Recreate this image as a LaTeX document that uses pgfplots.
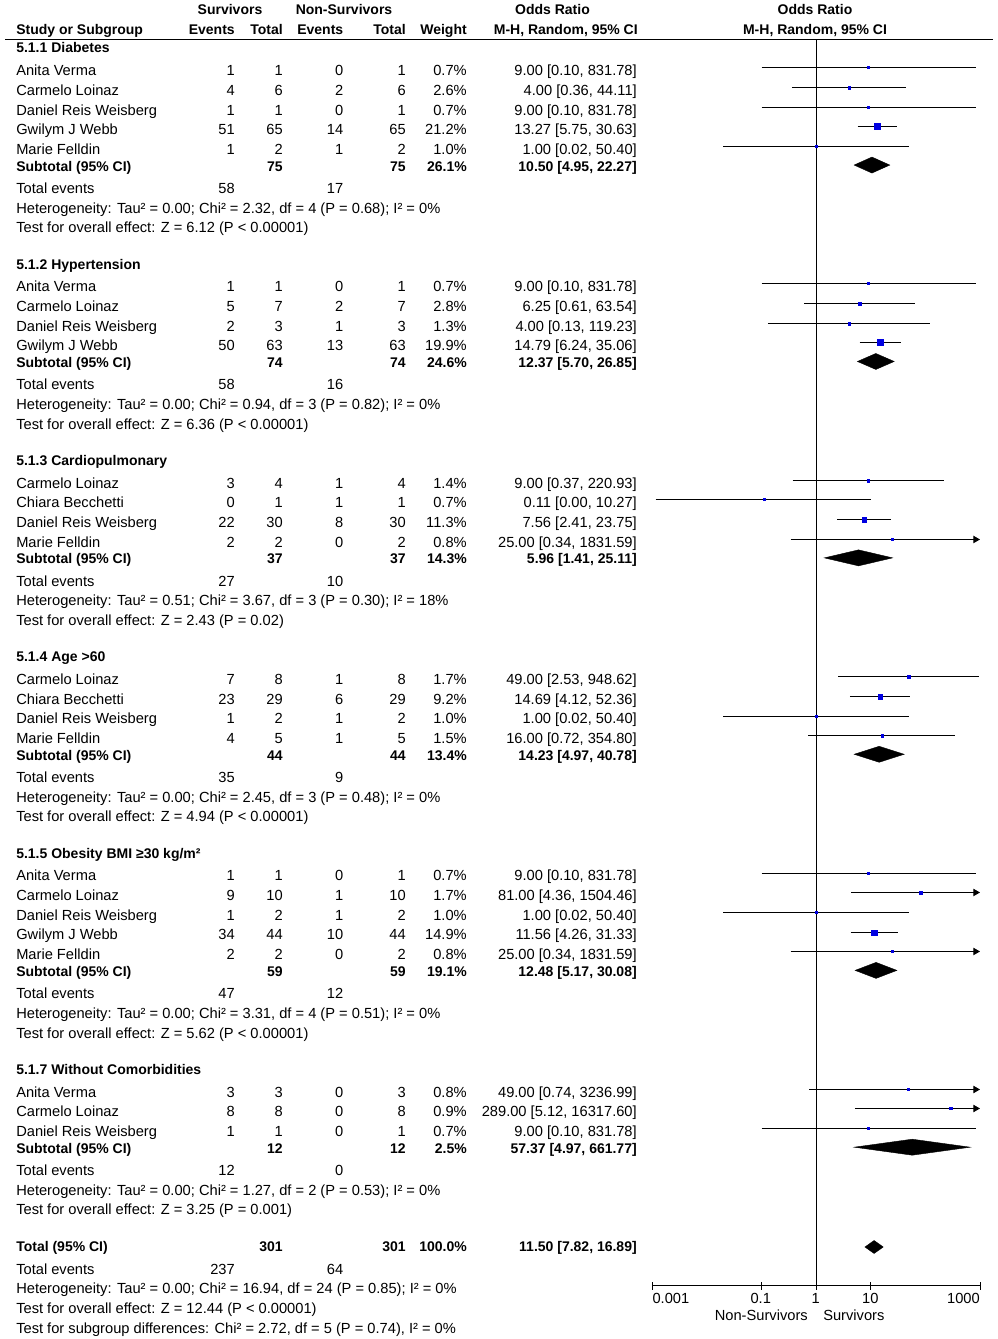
\documentclass[border=0pt]{standalone}
\usepackage{fontspec}
\setmainfont{Liberation Sans}
\usepackage{pgfplots}
\pgfplotsset{compat=1.18}
\usetikzlibrary{calc,arrows.meta}
\definecolor{sqblue}{RGB}{0,0,225}
\newcommand{\fR}{\fontsize{11pt}{13pt}\selectfont}
\newcommand{\fB}{\fontsize{10.5pt}{12pt}\selectfont\bfseries}
\tikzset{
 tl/.style={anchor=base west,inner sep=0pt,font=\fR},
 tr/.style={anchor=base east,inner sep=0pt,font=\fR},
 tc/.style={anchor=base,inner sep=0pt,font=\fR}}
\pgfplotsset{
 ci/.style={black,line width=0.8pt,mark=none},
 ciar/.style={black,line width=0.8pt,mark=none,-{Triangle[length=5pt,width=5.5pt]}},
 dia/.style={fill=black,draw=black,line width=0.3pt,mark=none}}
% study row: y, name, e1, t1, e2, t2, weight, CI
\newcommand{\study}[8]{%
\node[tl] at (axis cs:16,-#1) {#2};
\node[tr] at (axis cs:235,-#1) {#3};
\node[tr] at (axis cs:283,-#1) {#4};
\node[tr] at (axis cs:343.5,-#1) {#5};
\node[tr] at (axis cs:406,-#1) {#6};
\node[tr] at (axis cs:467,-#1) {#7\%};
\node[tr] at (axis cs:637,-#1) {#8};}
\newcommand{\subtot}[5]{%
\node[tl,font=\fB] at (axis cs:16,-#1) {Subtotal (95\% CI)};
\node[tr,font=\fB] at (axis cs:283,-#1) {#2};
\node[tr,font=\fB] at (axis cs:406,-#1) {#3};
\node[tr,font=\fB] at (axis cs:467,-#1) {#4\%};
\node[tr,font=\fB] at (axis cs:637,-#1) {#5};}
\newcommand{\tev}[3]{%
\node[tl] at (axis cs:16,-#1) {Total events};
\node[tr] at (axis cs:235,-#1) {#2};
\node[tr] at (axis cs:343.5,-#1) {#3};}
\newcommand{\tline}[2]{\node[tl] at (axis cs:16,-#1) {#2};}
\newcommand{\ghead}[2]{\node[tl,font=\fB] at (axis cs:16,-#1) {#2};}

\begin{document}
\begin{tikzpicture}
\begin{axis}[name=txt, at={(0,0)}, anchor=south west,
  width=747.75pt, height=1004.25pt, scale only axis,
  xmin=0, xmax=997, ymin=-1339, ymax=0, hide axis, clip=false]
% header
\node[tc,font=\fB] at (axis cs:230,-15) {Survivors};
\node[tc,font=\fB] at (axis cs:344,-15) {Non-Survivors};
\node[tc,font=\fB] at (axis cs:552.5,-15) {Odds Ratio};
\node[tc,font=\fB] at (axis cs:815,-15) {Odds Ratio};
\node[tl,font=\fB] at (axis cs:16,-35) {Study or Subgroup};
\node[tr,font=\fB] at (axis cs:235,-35) {Events};
\node[tr,font=\fB] at (axis cs:283,-35) {Total};
\node[tr,font=\fB] at (axis cs:343.5,-35) {Events};
\node[tr,font=\fB] at (axis cs:406,-35) {Total};
\node[tr,font=\fB] at (axis cs:467,-35) {Weight};
\node[tr,font=\fB] at (axis cs:638,-35) {M-H, Random, 95\% CI};
\node[tc,font=\fB] at (axis cs:815,-35) {M-H, Random, 95\% CI};
\addplot[black,line width=1.2pt,mark=none] coordinates {(5,-39.5) (993,-39.5)};
% group 1
\ghead{53}{5.1.1 Diabetes}
\study{75.7}{Anita Verma}{1}{1}{0}{1}{0.7}{9.00 [0.10, 831.78]}
\study{95.4}{Carmelo Loinaz}{4}{6}{2}{6}{2.6}{4.00 [0.36, 44.11]}
\study{115.1}{Daniel Reis Weisberg}{1}{1}{0}{1}{0.7}{9.00 [0.10, 831.78]}
\study{134.7}{Gwilym J Webb}{51}{65}{14}{65}{21.2}{13.27 [5.75, 30.63]}
\study{154.4}{Marie Felldin}{1}{2}{1}{2}{1.0}{1.00 [0.02, 50.40]}
\subtot{171.1}{75}{75}{26.1}{10.50 [4.95, 22.27]}
\tev{193.4}{58}{17}
\tline{213.1}{Heterogeneity: Tau² = 0.00; Chi² = 2.32, df = 4 (P = 0.68); I² = 0\%}
\tline{232.8}{Test for overall effect: Z = 6.12 (P < 0.00001)}
% group 2
\ghead{269.1}{5.1.2 Hypertension}
\study{291.8}{Anita Verma}{1}{1}{0}{1}{0.7}{9.00 [0.10, 831.78]}
\study{311.5}{Carmelo Loinaz}{5}{7}{2}{7}{2.8}{6.25 [0.61, 63.54]}
\study{331.2}{Daniel Reis Weisberg}{2}{3}{1}{3}{1.3}{4.00 [0.13, 119.23]}
\study{350.8}{Gwilym J Webb}{50}{63}{13}{63}{19.9}{14.79 [6.24, 35.06]}
\subtot{367.5}{74}{74}{24.6}{12.37 [5.70, 26.85]}
\tev{389.8}{58}{16}
\tline{409.5}{Heterogeneity: Tau² = 0.00; Chi² = 0.94, df = 3 (P = 0.82); I² = 0\%}
\tline{429.2}{Test for overall effect: Z = 6.36 (P < 0.00001)}
% group 3
\ghead{465.5}{5.1.3 Cardiopulmonary}
\study{488.2}{Carmelo Loinaz}{3}{4}{1}{4}{1.4}{9.00 [0.37, 220.93]}
\study{507.9}{Chiara Becchetti}{0}{1}{1}{1}{0.7}{0.11 [0.00, 10.27]}
\study{527.6}{Daniel Reis Weisberg}{22}{30}{8}{30}{11.3}{7.56 [2.41, 23.75]}
\study{547.2}{Marie Felldin}{2}{2}{0}{2}{0.8}{25.00 [0.34, 1831.59]}
\subtot{563.9}{37}{37}{14.3}{5.96 [1.41, 25.11]}
\tev{586.2}{27}{10}
\tline{605.9}{Heterogeneity: Tau² = 0.51; Chi² = 3.67, df = 3 (P = 0.30); I² = 18\%}
\tline{625.6}{Test for overall effect: Z = 2.43 (P = 0.02)}
% group 4
\ghead{661.9}{5.1.4 Age >60}
\study{684.6}{Carmelo Loinaz}{7}{8}{1}{8}{1.7}{49.00 [2.53, 948.62]}
\study{704.3}{Chiara Becchetti}{23}{29}{6}{29}{9.2}{14.69 [4.12, 52.36]}
\study{724.0}{Daniel Reis Weisberg}{1}{2}{1}{2}{1.0}{1.00 [0.02, 50.40]}
\study{743.6}{Marie Felldin}{4}{5}{1}{5}{1.5}{16.00 [0.72, 354.80]}
\subtot{760.3}{44}{44}{13.4}{14.23 [4.97, 40.78]}
\tev{782.6}{35}{9}
\tline{802.3}{Heterogeneity: Tau² = 0.00; Chi² = 2.45, df = 3 (P = 0.48); I² = 0\%}
\tline{822.0}{Test for overall effect: Z = 4.94 (P < 0.00001)}
% group 5
\ghead{858.3}{5.1.5 Obesity BMI ≥30 kg/m²}
\study{881.0}{Anita Verma}{1}{1}{0}{1}{0.7}{9.00 [0.10, 831.78]}
\study{900.7}{Carmelo Loinaz}{9}{10}{1}{10}{1.7}{81.00 [4.36, 1504.46]}
\study{920.4}{Daniel Reis Weisberg}{1}{2}{1}{2}{1.0}{1.00 [0.02, 50.40]}
\study{940.0}{Gwilym J Webb}{34}{44}{10}{44}{14.9}{11.56 [4.26, 31.33]}
\study{959.7}{Marie Felldin}{2}{2}{0}{2}{0.8}{25.00 [0.34, 1831.59]}
\subtot{976.4}{59}{59}{19.1}{12.48 [5.17, 30.08]}
\tev{998.7}{47}{12}
\tline{1018.4}{Heterogeneity: Tau² = 0.00; Chi² = 3.31, df = 4 (P = 0.51); I² = 0\%}
\tline{1038.1}{Test for overall effect: Z = 5.62 (P < 0.00001)}
% group 6
\ghead{1074.4}{5.1.7 Without Comorbidities}
\study{1097.1}{Anita Verma}{3}{3}{0}{3}{0.8}{49.00 [0.74, 3236.99]}
\study{1116.8}{Carmelo Loinaz}{8}{8}{0}{8}{0.9}{289.00 [5.12, 16317.60]}
\study{1136.5}{Daniel Reis Weisberg}{1}{1}{0}{1}{0.7}{9.00 [0.10, 831.78]}
\subtot{1153.2}{12}{12}{2.5}{57.37 [4.97, 661.77]}
\tev{1175.5}{12}{0}
\tline{1195.2}{Heterogeneity: Tau² = 0.00; Chi² = 1.27, df = 2 (P = 0.53); I² = 0\%}
\tline{1214.9}{Test for overall effect: Z = 3.25 (P = 0.001)}
% total
\node[tl,font=\fB] at (axis cs:16,-1252) {Total (95\% CI)};
\node[tr,font=\fB] at (axis cs:283,-1252) {301};
\node[tr,font=\fB] at (axis cs:406,-1252) {301};
\node[tr,font=\fB] at (axis cs:467,-1252) {100.0\%};
\node[tr,font=\fB] at (axis cs:637,-1252) {11.50 [7.82, 16.89]};
\tev{1274.3}{237}{64}
\tline{1294.0}{Heterogeneity: Tau² = 0.00; Chi² = 16.94, df = 24 (P = 0.85); I² = 0\%}
\tline{1313.7}{Test for overall effect: Z = 12.44 (P < 0.00001)}
\tline{1333.2}{Test for subgroup differences: Chi² = 2.72, df = 5 (P = 0.74), I² = 0\%}
% axis labels of forest plot
\node[tl] at (axis cs:652.3,-1304) {0.001};
\node[tc] at (axis cs:760.7,-1304) {0.1};
\node[tc] at (axis cs:815.7,-1304) {1};
\node[tc] at (axis cs:870.3,-1304) {10};
\node[tr] at (axis cs:980,-1304) {1000};
\node[tr] at (axis cs:808,-1321) {Non-Survivors};
\node[tl] at (axis cs:823,-1321) {Survivors};
\end{axis}

\begin{axis}[name=fp, at={($(txt.south west)+(489.225pt,39.75pt)$)}, anchor=south west,
  width=245.775pt, height=964.5pt, scale only axis,
  xmode=log, log basis x=10, xmin=0.001, xmax=1000, ymin=-1286, ymax=0,
  axis x line*=bottom, axis y line=none,
  xtick={0.001,0.1,1,10,1000}, xticklabels={}, xminorticks=false,
  xtick align=center, major tick length=6pt,
  axis line style={line width=0.75pt,black}, tick style={line width=0.75pt,black},
  clip=false]
\addplot[black,line width=0.75pt,mark=none] coordinates {(1,-39.5) (1,-1286)};
% group 1
\addplot[ci] coordinates {(0.10,-67.5) (831.78,-67.5)};
\addplot[ci] coordinates {(0.36,-87.5) (44.11,-87.5)};
\addplot[ci] coordinates {(0.10,-107.5) (831.78,-107.5)};
\addplot[ci] coordinates {(5.75,-126.5) (30.63,-126.5)};
\addplot[ci] coordinates {(0.02,-146.5) (50.40,-146.5)};
\addplot[dia] coordinates {(4.95,-165.1) (10.50,-157.1) (22.27,-165.1) (10.50,-173.1)} --cycle;
% group 2
\addplot[ci] coordinates {(0.10,-283.5) (831.78,-283.5)};
\addplot[ci] coordinates {(0.61,-303.5) (63.54,-303.5)};
\addplot[ci] coordinates {(0.13,-323.5) (119.23,-323.5)};
\addplot[ci] coordinates {(6.24,-342.5) (35.06,-342.5)};
\addplot[dia] coordinates {(5.70,-361.5) (12.37,-353.5) (26.85,-361.5) (12.37,-369.5)} --cycle;
% group 3
\addplot[ci] coordinates {(0.37,-480.5) (220.93,-480.5)};
\addplot[ci] coordinates {(0.00115,-499.5) (10.27,-499.5)};
\addplot[ci] coordinates {(2.41,-519.5) (23.75,-519.5)};
\addplot[ciar] coordinates {(0.34,-539.5) (1000,-539.5)};
\addplot[dia] coordinates {(1.41,-557.9) (5.96,-549.9) (25.11,-557.9) (5.96,-565.9)} --cycle;
% group 4
\addplot[ci] coordinates {(2.53,-676.5) (948.62,-676.5)};
\addplot[ci] coordinates {(4.12,-696.5) (52.36,-696.5)};
\addplot[ci] coordinates {(0.02,-716.5) (50.40,-716.5)};
\addplot[ci] coordinates {(0.72,-735.5) (354.80,-735.5)};
\addplot[dia] coordinates {(4.97,-754.3) (14.23,-746.3) (40.78,-754.3) (14.23,-762.3)} --cycle;
% group 5
\addplot[ci] coordinates {(0.10,-873.5) (831.78,-873.5)};
\addplot[ciar] coordinates {(4.36,-892.5) (1000,-892.5)};
\addplot[ci] coordinates {(0.02,-912.5) (50.40,-912.5)};
\addplot[ci] coordinates {(4.26,-932.5) (31.33,-932.5)};
\addplot[ciar] coordinates {(0.34,-951.5) (1000,-951.5)};
\addplot[dia] coordinates {(5.17,-970.4) (12.48,-962.4) (30.08,-970.4) (12.48,-978.4)} --cycle;
% group 6
\addplot[ciar] coordinates {(0.74,-1089.5) (1000,-1089.5)};
\addplot[ciar] coordinates {(5.12,-1108.5) (1000,-1108.5)};
\addplot[ci] coordinates {(0.10,-1128.5) (831.78,-1128.5)};
\addplot[dia] coordinates {(4.97,-1147.2) (57.37,-1139.2) (661.77,-1147.2) (57.37,-1155.2)} --cycle;
% overall
\addplot[dia] coordinates {(7.82,-1247) (11.50,-1240.5) (16.89,-1247) (11.50,-1253.5)} --cycle;
% study point estimates (square half-side in pt)
\addplot[scatter, only marks, mark=square*,
  scatter/use mapped color={draw=sqblue,fill=sqblue},
  visualization depends on={\thisrow{r}\as\ms},
  scatter/@pre marker code/.append style={/tikz/mark size=\ms},
  mark options={line width=0.1pt}] table[x=or,y=y] {
or     y        r
9.00   -67.5    0.75
4.00   -87.5    1.05
9.00   -107.5   0.75
13.27  -126.5   2.25
1.00   -146.5   0.8
9.00   -283.5   0.75
6.25   -303.5   1.1
4.00   -323.5   0.85
14.79  -342.5   2.2
9.00   -480.5   0.9
0.11   -499.5   0.75
7.56   -519.5   1.8
25.00  -539.5   0.78
49.00  -676.5   0.95
14.69  -696.5   1.65
1.00   -716.5   0.8
16.00  -735.5   0.92
9.00   -873.5   0.75
81.00  -892.5   0.95
1.00   -912.5   0.8
11.56  -932.5   2.0
25.00  -951.5   0.78
49.00  -1089.5  0.78
289.00 -1108.5  0.8
9.00   -1128.5  0.75
};
\end{axis}
\pgfresetboundingbox
\path[use as bounding box] (txt.south west) rectangle (txt.north east);
\end{tikzpicture}
\end{document}
